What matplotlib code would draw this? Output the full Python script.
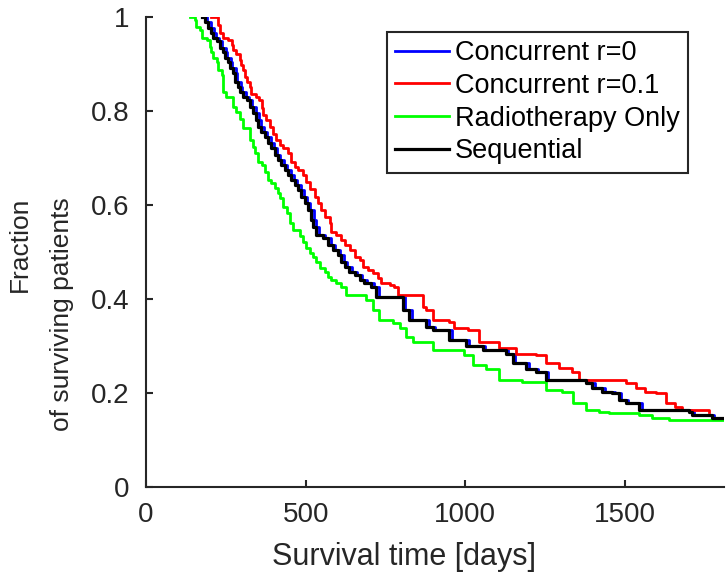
import matplotlib
matplotlib.use("Agg")
import matplotlib.pyplot as plt

plt.rcParams["font.family"] = ["Liberation Sans", "DejaVu Sans"]

# Kaplan-Meier style curves (time in days, fraction surviving)
t_conc0 = [182, 192, 203, 213, 218, 229, 239, 250, 255, 265,
           270, 281, 286, 296, 302, 312, 323, 333, 343, 354,
           359, 369, 380, 390, 401, 411, 421, 432, 442, 453,
           463, 474, 484, 494, 505, 515, 526, 531, 541, 562,
           578, 593, 609, 619, 630, 645, 661, 677, 692, 713,
           730, 812, 833, 885, 906, 958, 1010, 1062, 1135, 1156,
           1198, 1229, 1260, 1385, 1406, 1437, 1468, 1489, 1510, 1552,
           1706, 1716, 1780, 1812]
s_conc0 = [1.0, 0.990, 0.976, 0.965, 0.955, 0.948, 0.933, 0.926, 0.912, 0.905,
           0.891, 0.880, 0.862, 0.852, 0.841, 0.830, 0.823, 0.809, 0.795, 0.781,
           0.767, 0.756, 0.745, 0.731, 0.721, 0.706, 0.696, 0.685, 0.674, 0.664,
           0.653, 0.643, 0.632, 0.618, 0.604, 0.589, 0.568, 0.554, 0.536, 0.529,
           0.515, 0.504, 0.494, 0.479, 0.469, 0.458, 0.451, 0.440, 0.433, 0.426,
           0.405, 0.377, 0.355, 0.341, 0.334, 0.313, 0.299, 0.291, 0.284, 0.263,
           0.252, 0.245, 0.228, 0.221, 0.210, 0.203, 0.199, 0.185, 0.178, 0.164,
           0.160, 0.153, 0.146, 0.146]

t_conc01 = [205, 226, 231, 242, 257, 268, 273, 283, 294, 299,
            304, 309, 315, 325, 330, 346, 354, 362, 367, 377,
            388, 398, 408, 419, 429, 445, 455, 466, 476, 492,
            502, 513, 528, 539, 549, 559, 575, 580, 596, 612,
            622, 638, 653, 669, 679, 695, 710, 726, 737, 763,
            778, 790, 866, 877, 898, 950, 966, 1007, 1044, 1106,
            1158, 1221, 1252, 1294, 1335, 1356, 1502, 1533, 1564, 1596,
            1627, 1658, 1679, 1762]
s_conc01 = [1.0, 0.983, 0.965, 0.955, 0.951, 0.940, 0.930, 0.922, 0.908, 0.898,
            0.887, 0.873, 0.862, 0.852, 0.837, 0.830, 0.823, 0.806, 0.791, 0.781,
            0.767, 0.752, 0.738, 0.728, 0.721, 0.710, 0.692, 0.681, 0.674, 0.664,
            0.650, 0.635, 0.618, 0.604, 0.589, 0.575, 0.561, 0.543, 0.536, 0.526,
            0.515, 0.504, 0.490, 0.483, 0.469, 0.462, 0.455, 0.444, 0.433, 0.430,
            0.426, 0.409, 0.384, 0.377, 0.355, 0.352, 0.338, 0.334, 0.309, 0.295,
            0.284, 0.281, 0.263, 0.254, 0.245, 0.228, 0.221, 0.210, 0.203, 0.199,
            0.178, 0.171, 0.164, 0.160]

t_radio = [137, 153, 158, 169, 174, 190, 200, 205, 210, 221,
           226, 237, 242, 252, 273, 283, 294, 304, 325, 335,
           341, 351, 362, 372, 382, 393, 403, 414, 419, 429,
           440, 450, 460, 481, 492, 502, 513, 523, 533, 544,
           559, 570, 580, 596, 612, 627, 690, 710, 731, 773,
           794, 815, 835, 898, 997, 1023, 1065, 1106, 1179, 1252,
           1304, 1336, 1377, 1419, 1450, 1544, 1585, 1637, 1812]
s_radio = [1.0, 0.994, 0.979, 0.972, 0.955, 0.951, 0.937, 0.926, 0.912, 0.905,
           0.887, 0.877, 0.841, 0.830, 0.809, 0.798, 0.784, 0.763, 0.738, 0.724,
           0.710, 0.692, 0.685, 0.671, 0.653, 0.646, 0.636, 0.625, 0.614, 0.596,
           0.582, 0.561, 0.547, 0.533, 0.522, 0.508, 0.497, 0.490, 0.479, 0.465,
           0.458, 0.447, 0.440, 0.433, 0.426, 0.409, 0.398, 0.377, 0.355, 0.348,
           0.338, 0.320, 0.309, 0.291, 0.281, 0.260, 0.252, 0.228, 0.224, 0.206,
           0.203, 0.178, 0.164, 0.160, 0.157, 0.153, 0.146, 0.143, 0.141]

t_seq = [174, 184, 195, 205, 210, 221, 231, 242, 247, 257,
         262, 273, 278, 288, 294, 304, 315, 325, 335, 346,
         351, 361, 372, 382, 393, 403, 413, 424, 434, 445,
         455, 466, 476, 486, 497, 507, 518, 523, 533, 554,
         570, 585, 601, 611, 622, 637, 653, 669, 684, 705,
         721, 804, 825, 877, 898, 950, 1002, 1054, 1127, 1148,
         1190, 1221, 1252, 1377, 1398, 1429, 1460, 1481, 1502, 1544,
         1700, 1710, 1773, 1812]
s_seq = [1.0, 0.990, 0.976, 0.965, 0.955, 0.948, 0.933, 0.926, 0.912, 0.905,
         0.891, 0.880, 0.862, 0.852, 0.841, 0.830, 0.823, 0.809, 0.795, 0.781,
         0.767, 0.756, 0.745, 0.731, 0.721, 0.706, 0.696, 0.685, 0.674, 0.664,
         0.653, 0.643, 0.632, 0.618, 0.604, 0.589, 0.568, 0.554, 0.536, 0.529,
         0.515, 0.504, 0.494, 0.479, 0.469, 0.458, 0.451, 0.440, 0.433, 0.426,
         0.405, 0.377, 0.355, 0.341, 0.334, 0.313, 0.299, 0.291, 0.284, 0.263,
         0.252, 0.245, 0.228, 0.221, 0.210, 0.203, 0.199, 0.185, 0.178, 0.164,
         0.160, 0.153, 0.146, 0.146]

names = ["Concurrent r=0", "Concurrent r=0.1", "Radiotherapy Only", "Sequential"]
colors = ["#0000FF", "#FF0000", "#00FF00", "#000000"]
widths = [2, 2, 2, 2.3]

fig = plt.figure(figsize=(7.26, 5.77), dpi=100)
ax = fig.add_axes([146 / 726, 1 - 487 / 577, (724 - 146) / 726, (487 - 17) / 577])

curves = [(t_conc0, s_conc0), (t_conc01, s_conc01), (t_radio, s_radio), (t_seq, s_seq)]
for (t, s), c, w, nm in zip(curves, colors, widths, names):
    ax.plot(t, s, drawstyle="steps-post", color=c, lw=w, label=nm)

ax.set_xlim(0, 1810)
ax.set_ylim(0, 1)
ax.set_xticks([0, 500, 1000, 1500])
ax.set_yticks([0, 0.2, 0.4, 0.6, 0.8, 1])
ax.set_yticklabels(["0", "0.2", "0.4", "0.6", "0.8", "1"])

ax.spines["top"].set_visible(False)
ax.spines["right"].set_visible(False)
for sp in ["left", "bottom"]:
    ax.spines[sp].set_color("#262626")
    ax.spines[sp].set_linewidth(1.5)
ax.tick_params(direction="in", length=5, width=1.5, colors="#262626",
               labelsize=20, labelcolor="#262626")
ax.tick_params(axis="x", pad=11)
ax.tick_params(axis="y", pad=12)

# MATLAB put the labels slightly off-centre, so place them by hand
ax.set_xlabel("Survival time [days]", fontsize=22, color="#262626")
ax.xaxis.set_label_coords((404 - 146) / 578, -0.118)
fig.text(41 / 726, 1 - 197 / 577, "Fraction\nof surviving patients", rotation=90,
         fontsize=19, color="#262626", ha="center", va="top",
         multialignment="right", linespacing=2.0)

leg = ax.legend(loc="upper right", bbox_to_anchor=(688 / 726, 1 - 32 / 577),
                bbox_transform=fig.transFigure, borderaxespad=0, fontsize=19.5,
                handlelength=2.0, handletextpad=0.22, labelspacing=0.25,
                borderpad=0.3, fancybox=False, framealpha=1)
leg.get_frame().set_edgecolor("#262626")
leg.get_frame().set_linewidth(1.5)

fig.savefig("out.png", dpi=100)
